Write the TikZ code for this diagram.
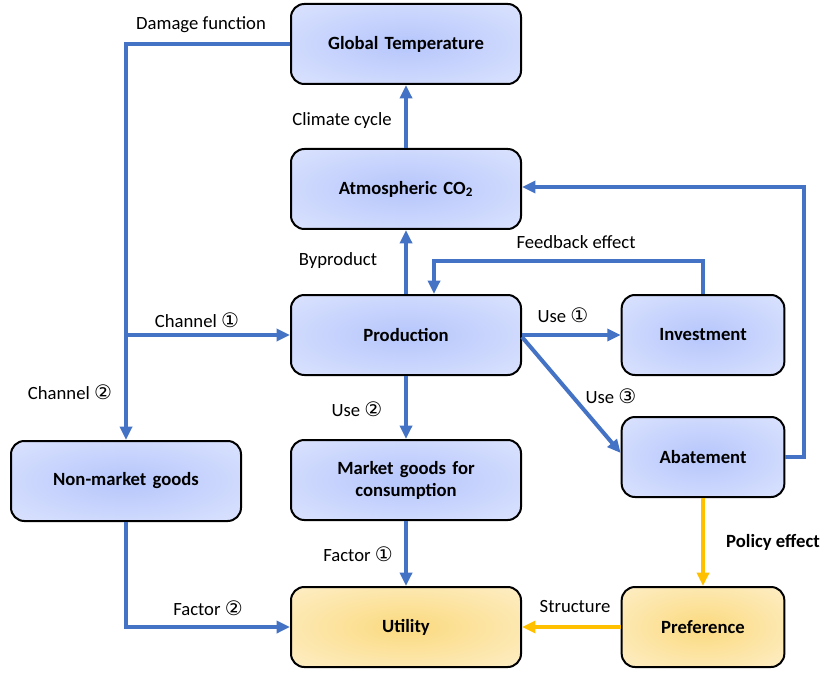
\documentclass[tikz,border=0pt]{standalone}
\usepackage{fontspec}
\setmainfont{Carlito}
\newfontfamily\symfont{DejaVu Sans}
\usetikzlibrary{arrows.meta,calc}
\definecolor{lineblue}{HTML}{4472C4}
\definecolor{lineyellow}{HTML}{FFC000}
\definecolor{bin}{RGB}{186,201,252}
\definecolor{bout}{RGB}{228,234,254}
\definecolor{yin}{RGB}{251,220,135}
\definecolor{yout}{RGB}{254,243,216}
\pgfdeclareradialshading[bin,bout]{bshade}{\pgfpoint{0bp}{0bp}}{color(0bp)=(bin); color(4bp)=(bin); color(45bp)=(bout); color(75bp)=(bout)}
\pgfdeclareradialshading[yin,yout]{yshade}{\pgfpoint{0bp}{0bp}}{color(0bp)=(yin); color(4bp)=(yin); color(45bp)=(yout); color(75bp)=(yout)}
\newcommand{\cnum}[1]{{\symfont\fontsize{15pt}{15pt}\selectfont #1}}
\tikzset{
  box/.style={draw=black, line width=1.5pt, rounded corners=10pt, minimum height=60pt,
    inner sep=2pt, align=center, font=\fontsize{14pt}{16.5pt}\selectfont\bfseries},
  bigbox/.style={box, minimum width=172.5pt, text width=160pt},
  smallbox/.style={box, minimum width=122pt, text width=110pt},
  bluebox/.style={shading=bshade},
  yellowbox/.style={shading=yshade},
  bluearrow/.style={draw=lineblue, line width=3pt, -{Triangle[length=10pt,width=9pt]}},
  yellowarrow/.style={draw=lineyellow, line width=3pt, -{Triangle[length=10pt,width=9pt]}},
  lbl/.style={font=\fontsize{14pt}{16pt}\selectfont, inner sep=0pt},
}
\begin{document}
\begin{tikzpicture}[x=0.75pt,y=-0.75pt]
\useasboundingbox (0,0) rectangle (823,673);
\node[bigbox,bluebox] (gt) at (406,44) {Global Temperature};
\node[bigbox,bluebox] (co2) at (406,189) {Atmospheric CO\textsubscript{2}};
\node[bigbox,bluebox] (prod) at (406,335) {Production};
\node[smallbox,bluebox] (inv) at (703,335) {Investment};
\node[smallbox,bluebox] (ab) at (703,457) {Abatement};
\node[bigbox,bluebox] (nm) at (126,481) {Non-market goods};
\node[bigbox,bluebox] (mg) at (406,480) {Market goods for\\consumption};
\node[bigbox,yellowbox] (ut) at (406,627) {Utility};
\node[smallbox,yellowbox] (pref) at (703,627) {Preference};

\coordinate (j1) at (nm.north |- prod.west);
\draw[bluearrow] (gt.west) -| (nm.north);
\draw[bluearrow] (j1) -- (prod.west);
\draw[bluearrow] (co2.north) -- (gt.south);
\draw[bluearrow] (prod.north) -- (co2.south);
\coordinate (fbtop) at ($(inv.north)+(0,-33)$);
\coordinate (fbend) at ($(prod.north)+(28,0)$);
\draw[bluearrow] (inv.north) -- (fbtop) -| (fbend);
\coordinate (abr) at ($(ab.east)+(19,0)$);
\draw[bluearrow] (ab.east) -- (abr) |- ($(co2.east)+(0,-2)$);
\draw[bluearrow] (prod.east) -- (inv.west);
\draw[bluearrow] ($(prod.east)+(0,2)$) -- ($(ab.west)+(0,-4)$);
\draw[bluearrow] (prod.south) -- (mg.north);
\draw[bluearrow] (mg.south) -- (ut.north);
\draw[bluearrow] (nm.south) |- (ut.west);
\draw[yellowarrow] (ab.south) -- (pref.north);
\draw[yellowarrow] (pref.west) -- (ut.east);

\node[lbl] (l1) at (201,25) {Damage function};
\node[lbl] (l2) at (342,121) {Climate cycle};
\node[lbl] (l3) at (338,261) {Byproduct};
\node[lbl] (l4) at (576,242) {Feedback effect};
\node[lbl] (l5) at (197,320) {Channel \cnum{①}};
\node[lbl] (l6) at (70,392) {Channel \cnum{②}};
\node[lbl] (l7) at (563,315) {Use \cnum{①}};
\node[lbl] (l8) at (611,396) {Use \cnum{③}};
\node[lbl] (l9) at (357,409) {Use \cnum{②}};
\node[lbl] (l10) at (358,554) {Factor \cnum{①}};
\node[lbl] (l11) at (208,608) {Factor \cnum{②}};
\node[lbl,font=\fontsize{14pt}{16pt}\selectfont\bfseries] (l12) at (773,542) {Policy effect};
\node[lbl] (l13) at (575,607) {Structure};
\end{tikzpicture}
\end{document}
